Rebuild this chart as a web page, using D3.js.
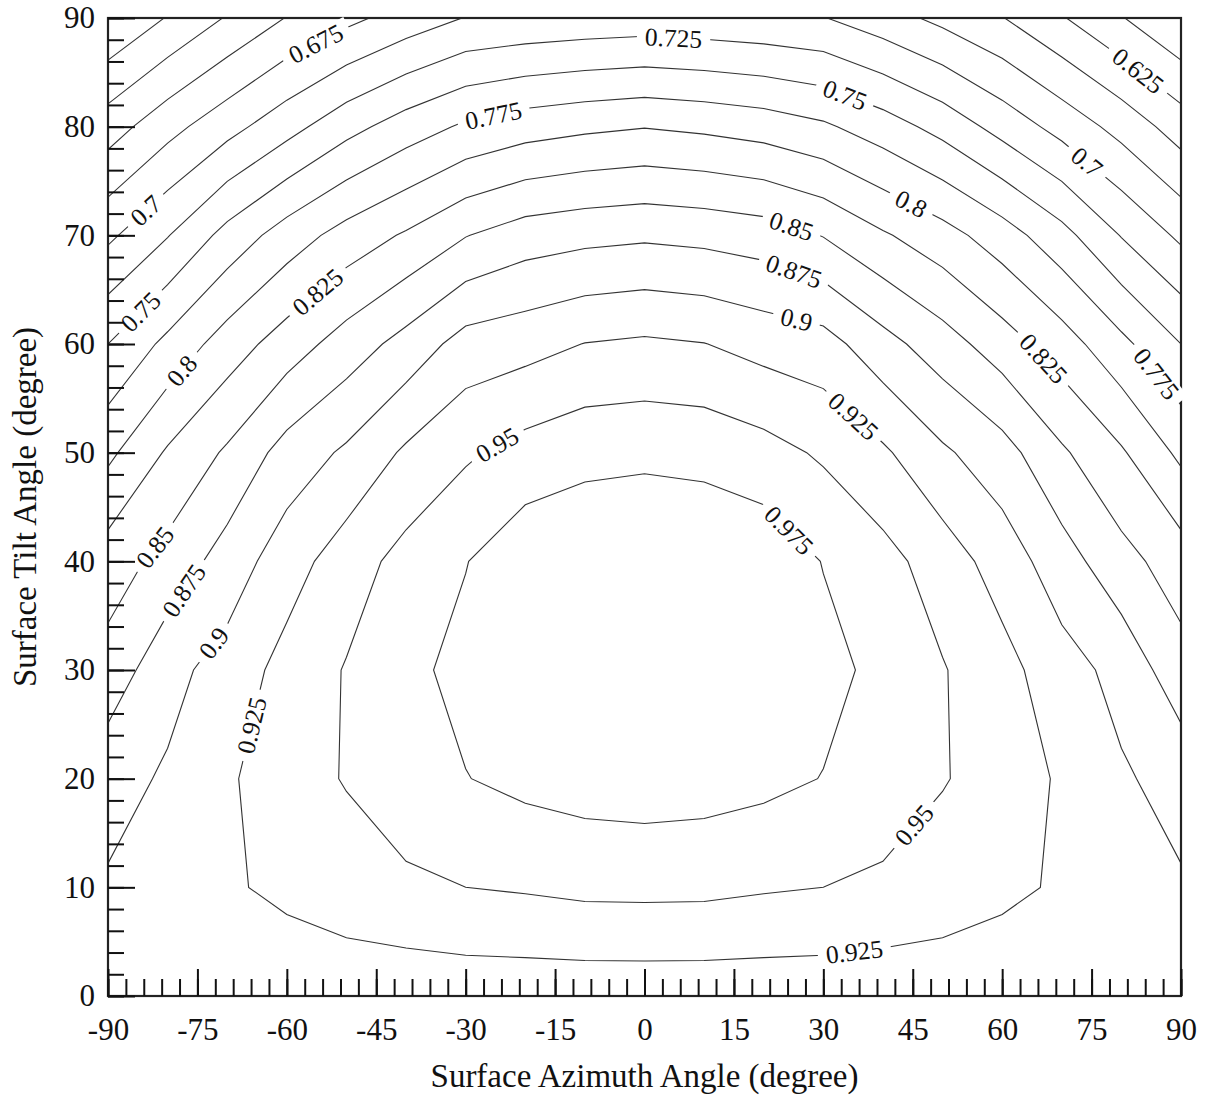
<!DOCTYPE html>
<html>
<head>
<meta charset="utf-8">
<script src="https://cdn.jsdelivr.net/npm/d3@7"></script>
<style>
  body { margin: 0; background: #fff; }
  text { font-family: "Liberation Serif", "Times New Roman", serif; fill: #111; }
</style>
</head>
<body>
<div id="chart"></div>
<script>
// Grid the contours are traced from (10 degree steps)
const azimuths = [-90, -80, -70, -60, -50, -40, -30, -20, -10, 0, 10, 20, 30, 40, 50, 60, 70, 80, 90];
const tilts = [0, 10, 20, 30, 40, 50, 60, 70, 80, 90];

// Values, one row per tilt, one value per azimuth
const tilt00 = [0.91, 0.91, 0.91, 0.91, 0.91, 0.91, 0.91, 0.91, 0.91, 0.91, 0.91, 0.91, 0.91, 0.91, 0.91, 0.91, 0.91, 0.91, 0.91];
const tilt10 = [0.9025, 0.913, 0.9222, 0.930, 0.938, 0.944, 0.950, 0.9525, 0.956, 0.9565, 0.956, 0.9525, 0.950, 0.944, 0.938, 0.930, 0.9222, 0.913, 0.9025];
const tilt20 = [0.8912, 0.903, 0.9216, 0.9393, 0.9516, 0.969, 0.9743, 0.9816, 0.986, 0.988, 0.986, 0.9816, 0.9743, 0.969, 0.9516, 0.9393, 0.9216, 0.903, 0.8912];
const tilt30 = [0.8595, 0.8923, 0.910, 0.9338, 0.9516, 0.969, 0.982, 0.995, 0.998, 1.000, 0.998, 0.995, 0.982, 0.969, 0.9516, 0.9338, 0.910, 0.8923, 0.8595];
const tilt40 = [0.8375, 0.8585, 0.886, 0.9138, 0.938, 0.9586, 0.9741, 0.992, 0.995, 1.000, 0.995, 0.992, 0.9741, 0.9586, 0.938, 0.9138, 0.886, 0.8585, 0.8375];
const tilt50 = [0.7944, 0.828, 0.8536, 0.885, 0.904, 0.929, 0.9464, 0.9593, 0.9676, 0.969, 0.9676, 0.9593, 0.9464, 0.929, 0.904, 0.885, 0.8536, 0.828, 0.7944];
const tilt60 = [0.750, 0.7815, 0.8118, 0.837, 0.8613, 0.884, 0.9101, 0.9161, 0.9256, 0.929, 0.9256, 0.9161, 0.9101, 0.884, 0.8613, 0.837, 0.8118, 0.7815, 0.750];
const tilt70 = [0.695, 0.7238, 0.7585, 0.7869, 0.8098, 0.828, 0.849, 0.8627, 0.868, 0.871, 0.868, 0.8627, 0.849, 0.828, 0.8098, 0.7869, 0.7585, 0.7238, 0.695];
const tilt80 = [0.638, 0.6663, 0.6911, 0.7158, 0.7414, 0.762, 0.779, 0.789, 0.795, 0.799, 0.795, 0.789, 0.779, 0.762, 0.7414, 0.7158, 0.6911, 0.6663, 0.638];
const tilt90 = [0.576, 0.6015, 0.627, 0.651, 0.6685, 0.6855, 0.701, 0.705, 0.708, 0.710, 0.708, 0.705, 0.701, 0.6855, 0.6685, 0.651, 0.627, 0.6015, 0.576];

const levels = [0.6, 0.625, 0.65, 0.675, 0.7, 0.725, 0.75, 0.775, 0.8, 0.825, 0.85, 0.875, 0.9, 0.925, 0.95, 0.975];

// Contour labels: level and where it sits (azimuth, tilt)
const labelLevels = [0.675, 0.725, 0.625, 0.775, 0.75, 0.7, 0.7, 0.8, 0.75, 0.825, 0.85, 0.875, 0.9, 0.825, 0.775, 0.8, 0.95, 0.925, 0.975, 0.85, 0.875, 0.9, 0.925, 0.95, 0.925];
const labelAz = [-55.3, 4.9, 82.6, -25.4, 33.4, -83.7, 74.0, 45.0, -84.6, -55.3, 24.4, 24.8, 25.2, 67.0, 84.8, -77.1, -24.9, 34.8, 23.6, -82.1, -77.5, -72.3, -65.9, 44.2, 35.2];
const labelTilt = [87.8, 88.4, 85.0, 81.2, 82.6, 72.3, 76.6, 73.2, 63.0, 65.1, 70.4, 66.3, 61.6, 58.7, 56.8, 57.3, 50.9, 53.2, 42.5, 41.3, 37.4, 32.5, 24.9, 16.2, 4.1];

// Axis ticks
const xMajorTicks = [-90, -75, -60, -45, -30, -15, 0, 15, 30, 45, 60, 75, 90];
const xMinorTicks = d3.range(-90, 91, 3);
const yMajorTicks = [0, 10, 20, 30, 40, 50, 60, 70, 80, 90];
const yMinorTicks = d3.range(0, 91, 2);

const width = 1206, height = 1095;
const plot = { left: 108, right: 1181, top: 18, bottom: 996 };
const serif = "Liberation Serif, Times New Roman, serif";

const svg = d3.select("#chart").append("svg")
    .attr("width", width)
    .attr("height", height);

const x = d3.scaleLinear().domain([-90, 90]).range([plot.left, plot.right]);
const y = d3.scaleLinear().domain([0, 90]).range([plot.bottom, plot.top]);

// grid index -> degrees
const gx = d3.scaleLinear().domain([0, azimuths.length - 1]).range([azimuths[0], azimuths[azimuths.length - 1]]);
const gy = d3.scaleLinear().domain([0, tilts.length - 1]).range([tilts[0], tilts[tilts.length - 1]]);

const values = [tilt00, tilt10, tilt20, tilt30, tilt40, tilt50, tilt60, tilt70, tilt80, tilt90].flat();
const contours = d3.contours()
    .size([azimuths.length, tilts.length])
    .thresholds(levels)(values);

// d3.contours puts sample i at coordinate i + 0.5
const toPixel = (p) => [x(gx(p[0] - 0.5)), y(gy(p[1] - 0.5))];
const projection = d3.geoTransform({
    point: function (px, py) {
        const q = toPixel([px, py]);
        this.stream.point(q[0], q[1]);
    }
});
const path = d3.geoPath(projection);

svg.append("defs").append("clipPath").attr("id", "plot-clip")
    .append("rect")
    .attr("x", plot.left)
    .attr("y", plot.top)
    .attr("width", plot.right - plot.left)
    .attr("height", plot.bottom - plot.top);

// contour lines (the outer ring edges fall outside the clip)
svg.append("g")
    .attr("clip-path", "url(#plot-clip)")
    .selectAll("path")
    .data(contours)
    .join("path")
    .attr("d", path)
    .attr("fill", "none")
    .attr("stroke", "#333")
    .attr("stroke-width", 1.1);

// frame
svg.append("rect")
    .attr("x", plot.left)
    .attr("y", plot.top)
    .attr("width", plot.right - plot.left)
    .attr("height", plot.bottom - plot.top)
    .attr("fill", "none")
    .attr("stroke", "#222")
    .attr("stroke-width", 2.2);

// labels sit on their contour, turned along it, with a white gap behind
const inside = (p) => p[0] >= plot.left - 0.5 && p[0] <= plot.right + 0.5 &&
    p[1] >= plot.top - 0.5 && p[1] <= plot.bottom + 0.5;

const labelLayer = svg.append("g");
labelLevels.forEach((lv, i) => {
    const c = contours.find((d) => Math.abs(d.value - lv) < 1e-9);
    const ax = x(labelAz[i]), ay = y(labelTilt[i]);
    let best = null;
    c.coordinates.forEach((poly) => poly.forEach((ring) => {
        const pts = ring.map(toPixel);
        const cum = [0];
        for (let k = 1; k < pts.length; k++) {
            cum.push(cum[k - 1] + Math.hypot(pts[k][0] - pts[k - 1][0], pts[k][1] - pts[k - 1][1]));
        }
        for (let k = 0; k + 1 < pts.length; k++) {
            const p = pts[k], q = pts[k + 1];
            if (!inside(p) || !inside(q)) continue;
            const dx = q[0] - p[0], dy = q[1] - p[1];
            const len2 = dx * dx + dy * dy;
            if (len2 === 0) continue;
            let t = ((ax - p[0]) * dx + (ay - p[1]) * dy) / len2;
            t = Math.max(0, Math.min(1, t));
            const cx = p[0] + t * dx, cy = p[1] + t * dy;
            const d2 = (ax - cx) ** 2 + (ay - cy) ** 2;
            if (!best || d2 < best.d2) {
                best = { d2, cx, cy, pts, cum, s: cum[k] + t * Math.sqrt(len2) };
            }
        }
    }));
    if (!best) return;

    // direction from a short stretch of the line either side
    const pointAt = (s) => {
        const { pts, cum } = best;
        s = Math.max(0, Math.min(cum[cum.length - 1], s));
        let j = 0;
        while (j < cum.length - 2 && cum[j + 1] < s) j++;
        const seg = cum[j + 1] - cum[j] || 1;
        const f = (s - cum[j]) / seg;
        return [pts[j][0] + f * (pts[j + 1][0] - pts[j][0]), pts[j][1] + f * (pts[j + 1][1] - pts[j][1])];
    };
    const a = pointAt(best.s - 22), b = pointAt(best.s + 22);
    let angle = Math.atan2(b[1] - a[1], b[0] - a[0]) * 180 / Math.PI;
    if (angle > 90) angle -= 180;
    if (angle < -90) angle += 180;

    const g = labelLayer.append("g")
        .attr("transform", `translate(${best.cx},${best.cy}) rotate(${angle})`);
    const bg = g.append("rect").attr("fill", "#fff");
    const txt = g.append("text")
        .attr("text-anchor", "middle")
        .attr("dy", "0.35em")
        .attr("font-size", 25.5)
        .text(String(lv));
    const w = txt.node().getComputedTextLength();
    bg.attr("x", -w / 2 - 8).attr("y", -11).attr("width", w + 16).attr("height", 22);
});

// axes: ticks point inward, majors longer
function styleAxis(g) {
    g.select(".domain").remove();
    g.selectAll(".tick line").attr("stroke", "#111").attr("stroke-width", 2);
    g.attr("font-family", serif).attr("font-size", 31);
    g.selectAll(".tick text").attr("fill", "#111");
}

svg.append("g")
    .attr("transform", `translate(${plot.left},0)`)
    .call(d3.axisLeft(y).tickValues(yMinorTicks).tickSize(-16).tickFormat(""))
    .call(styleAxis);
svg.append("g")
    .attr("transform", `translate(${plot.left},0)`)
    .call(d3.axisLeft(y).tickValues(yMajorTicks).tickSize(-27).tickPadding(13).tickFormat((d) => String(d)))
    .call(styleAxis);

svg.append("g")
    .attr("transform", `translate(0,${plot.bottom})`)
    .call(d3.axisBottom(x).tickValues(xMinorTicks).tickSize(-17).tickFormat(""))
    .call(styleAxis);
svg.append("g")
    .attr("transform", `translate(0,${plot.bottom})`)
    .call(d3.axisBottom(x).tickValues(xMajorTicks).tickSize(-27).tickPadding(22).tickFormat((d) => String(d)))
    .call(styleAxis);

// axis titles
svg.append("text")
    .attr("x", (plot.left + plot.right) / 2)
    .attr("y", 1087)
    .attr("text-anchor", "middle")
    .attr("font-size", 33)
    .text("Surface Azimuth Angle (degree)");

svg.append("text")
    .attr("transform", `translate(36,${(plot.top + plot.bottom) / 2}) rotate(-90)`)
    .attr("text-anchor", "middle")
    .attr("font-size", 33)
    .text("Surface Tilt Angle (degree)");
</script>
</body>
</html>
